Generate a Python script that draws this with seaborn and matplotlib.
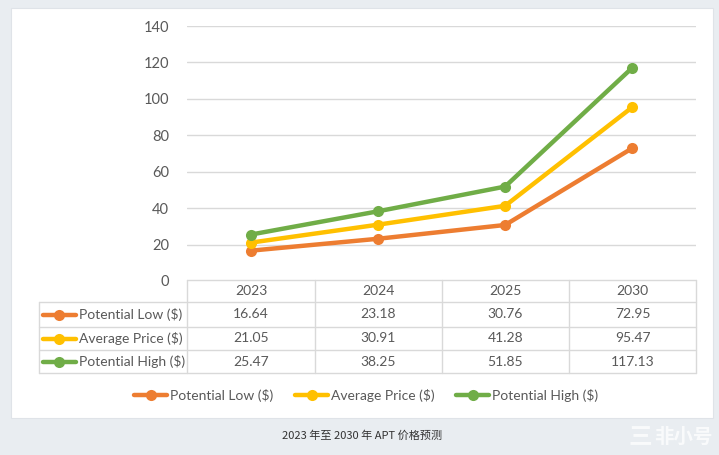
import matplotlib
matplotlib.use("Agg")
import matplotlib.pyplot as plt
from matplotlib.patches import Rectangle
from matplotlib.lines import Line2D
import seaborn as sns
import pandas as pd

years = ["2023", "2024", "2025", "2030"]
series_names = ["Potential Low ($)", "Average Price ($)", "Potential High ($)"]
low = [16.64, 23.18, 30.76, 72.95]
avg = [21.05, 30.91, 41.28, 95.47]
high = [25.47, 38.25, 51.85, 117.13]
yticks = [0, 20, 40, 60, 80, 100, 120, 140]
caption = "2023 年至 2030 年 APT 价格预测"
colors = ["#ED7D31", "#FFC000", "#70AD47"]

values = [low, avg, high]
df = pd.DataFrame({
    "year": years * 3,
    "value": low + avg + high,
    "series": [s for s in series_names for _ in years],
})

sns.set_theme(style="white")
plt.rcParams["font.family"] = ["Lato", "Noto Sans CJK SC", "DejaVu Sans"]

W, H = 719, 455
fig = plt.figure(figsize=(W / 100, H / 100), dpi=100)
fig.patch.set_facecolor("#e9edf1")

def fx(px):
    return px / W

def fy(py):
    return 1 - py / H

FS = 10

# white panel
fig.patches.append(Rectangle((fx(11), fy(418)), fx(702), 410 / H, transform=fig.transFigure,
                             facecolor="white", edgecolor="#dfe3e8", linewidth=0.8, zorder=-5))

# main axes
L, R, T, B = 187, 696, 26, 281
ax = fig.add_axes([fx(L), fy(B), (R - L) / W, (B - T) / H])
ax.set_facecolor("none")
ax.set_zorder(2)
sns.lineplot(data=df, x="year", y="value", hue="series", palette=colors, marker="o",
             markersize=8, markeredgewidth=0, linewidth=3.2, ax=ax, legend=False,
             sort=False, zorder=3)
ax.set_xlim(-0.5, 3.5)
ax.set_ylim(0, 140)
ax.set_yticks(yticks)
ax.set_yticklabels([str(t) for t in yticks], color="#595959", fontsize=FS + 0.5)
ax.tick_params(axis="y", length=0, pad=13)
ax.set_xticks([])
ax.set_xlabel("")
ax.set_ylabel("")
for s in ax.spines.values():
    s.set_visible(False)
ax.grid(axis="y", color="#d9d9d9", linewidth=1)
ax.set_axisbelow(True)

# data table (figure-pixel coordinates)
grid_c = "#d9d9d9"
tcol = "#595959"
col_x = [187, 315, 442, 569, 696]
row_y = [280, 302, 327, 350, 373]
tl = 39

def hline(y, x0, x1):
    fig.add_artist(Line2D([fx(x0), fx(x1)], [fy(y), fy(y)], color=grid_c, lw=1,
                          transform=fig.transFigure))

def vline(x, y0, y1):
    fig.add_artist(Line2D([fx(x), fx(x)], [fy(y0), fy(y1)], color=grid_c, lw=1,
                          transform=fig.transFigure))

hline(row_y[0], col_x[0], col_x[-1])
for y in row_y[1:]:
    hline(y, tl, col_x[-1])
vline(tl, row_y[1], row_y[-1])
for x in col_x:
    vline(x, row_y[0], row_y[-1])

for i, yr in enumerate(years):
    cx = (col_x[i] + col_x[i + 1]) / 2
    fig.text(fx(cx), fy((row_y[0] + row_y[1]) / 2), yr, ha="center", va="center",
             color=tcol, fontsize=FS)

for r, (name, vals, c) in enumerate(zip(series_names, values, colors)):
    cy = (row_y[r + 1] + row_y[r + 2]) / 2
    fig.add_artist(Line2D([fx(43), fx(76)], [fy(cy), fy(cy)], color=c, lw=3.2,
                          transform=fig.transFigure))
    fig.add_artist(Line2D([fx(59.5)], [fy(cy)], color=c, marker="o", markersize=8,
                          markeredgewidth=0, transform=fig.transFigure))
    fig.text(fx(79), fy(cy), name, ha="left", va="center", color=tcol, fontsize=FS)
    for i, v in enumerate(vals):
        cx = (col_x[i] + col_x[i + 1]) / 2
        fig.text(fx(cx), fy(cy), f"{v:.2f}", ha="center", va="center", color=tcol,
                 fontsize=FS)

# bottom legend
leg_y = 395
leg_x = [134, 295, 456]
for x0, name, c in zip(leg_x, series_names, colors):
    fig.add_artist(Line2D([fx(x0), fx(x0 + 33)], [fy(leg_y), fy(leg_y)], color=c, lw=3.2,
                          transform=fig.transFigure))
    fig.add_artist(Line2D([fx(x0 + 16.5)], [fy(leg_y)], color=c, marker="o", markersize=8,
                          markeredgewidth=0, transform=fig.transFigure))
    fig.text(fx(x0 + 36), fy(leg_y), name, ha="left", va="center", color=tcol, fontsize=FS)

# caption
fig.text(fx(362), fy(436), caption, ha="center", va="center", color="#333333", fontsize=8,
         family=["Noto Sans CJK SC", "DejaVu Sans"])

# watermark
fig.text(fx(713), fy(437), "非小号", ha="right", va="center", color="#fbfcfd", fontsize=14,
         family=["Noto Sans CJK SC", "DejaVu Sans"], weight="bold", alpha=0.9)
fig.text(fx(652), fy(437), "三", ha="right", va="center", color="#fbfcfd", fontsize=17,
         family=["Noto Sans CJK SC", "DejaVu Sans"], weight="bold", alpha=0.9)

fig.savefig("out.png", dpi=100, facecolor=fig.get_facecolor())
